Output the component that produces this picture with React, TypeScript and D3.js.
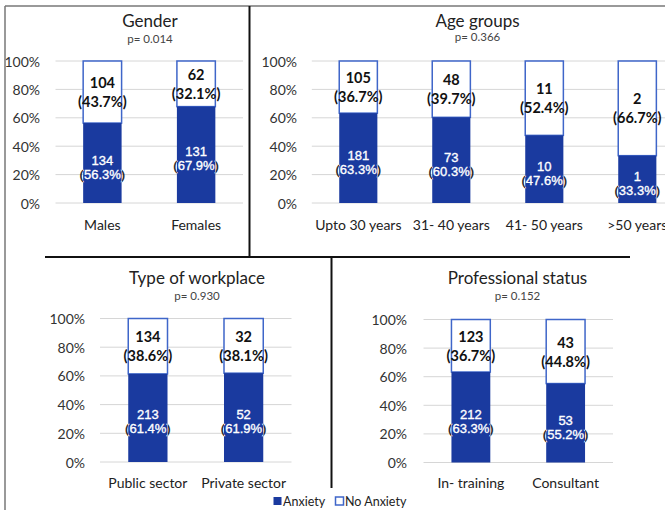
import React from "react";
import * as d3 from "d3";

// ---- Data ----
const genderCategories = ["Males", "Females"];
const genderAnxiety = [134, 131];
const genderAnxietyPct = [56.3, 67.9];
const genderNoAnxiety = [104, 62];
const genderNoAnxietyPct = [43.7, 32.1];

const ageCategories = ["Upto 30 years", "31- 40 years", "41- 50 years", ">50 years"];
const ageAnxiety = [181, 73, 10, 1];
const ageAnxietyPct = [63.3, 60.3, 47.6, 33.3];
const ageNoAnxiety = [105, 48, 11, 2];
const ageNoAnxietyPct = [36.7, 39.7, 52.4, 66.7];

const workCategories = ["Public sector", "Private sector"];
const workAnxiety = [213, 52];
const workAnxietyPct = [61.4, 61.9];
const workNoAnxiety = [134, 32];
const workNoAnxietyPct = [38.6, 38.1];

const profCategories = ["In- training", "Consultant"];
const profAnxiety = [212, 53];
const profAnxietyPct = [63.3, 55.2];
const profNoAnxiety = [123, 43];
const profNoAnxietyPct = [36.7, 44.8];

const yTicks = [0, 0.2, 0.4, 0.6, 0.8, 1];
const legendLabels = ["Anxiety", "No Anxiety"];

// ---- Style ----
const BLUE = "#1a3a9f";
const BORDER = "#3f66c9";
const GRID = "#d6d6d6";
const FONT = "Lato, 'Open Sans', sans-serif";
const W = 665;
const H = 510;

type PanelDef = {
  id: string;
  title: string;
  p: string;
  cats: string[];
  anx: number[];
  anxPct: number[];
  no: number[];
  noPct: number[];
  x0: number;
  x1: number;
  yTop: number;
  yBot: number;
  tickX: number;
  titleX: number;
  titleY: number;
  pY: number;
  catY: number;
};

const panels: PanelDef[] = [
  {
    id: "g", title: "Gender", p: "p= 0.014", cats: genderCategories,
    anx: genderAnxiety, anxPct: genderAnxietyPct, no: genderNoAnxiety, noPct: genderNoAnxietyPct,
    x0: 55.5, x1: 243, yTop: 61, yBot: 203, tickX: 40, titleX: 150, titleY: 20, pY: 38, catY: 224.5,
  },
  {
    id: "a", title: "Age groups", p: "p= 0.366", cats: ageCategories,
    anx: ageAnxiety, anxPct: ageAnxietyPct, no: ageNoAnxiety, noPct: ageNoAnxietyPct,
    x0: 311.8, x1: 683.8, yTop: 61, yBot: 203, tickX: 297, titleX: 477.5, titleY: 20, pY: 36.5, catY: 224.5,
  },
  {
    id: "w", title: "Type of workplace", p: "p= 0.930", cats: workCategories,
    anx: workAnxiety, anxPct: workAnxietyPct, no: workNoAnxiety, noPct: workNoAnxietyPct,
    x0: 100, x1: 291.5, yTop: 318.5, yBot: 462, tickX: 85, titleX: 197, titleY: 277, pY: 295, catY: 482,
  },
  {
    id: "p", title: "Professional status", p: "p= 0.152", cats: profCategories,
    anx: profAnxiety, anxPct: profAnxietyPct, no: profNoAnxiety, noPct: profNoAnxietyPct,
    x0: 423.5, x1: 613, yTop: 319.5, yBot: 462.5, tickX: 407, titleX: 517.5, titleY: 277.5, pY: 295.5, catY: 482.5,
  },
];

const pctFmt = (v: number) => `(${v.toFixed(1)}%)`;
const tickFmt = d3.format(".0%");

function Panel({ d }: { d: PanelDef }) {
  const x = d3.scaleBand<string>().domain(d.cats).range([d.x0, d.x1]).padding(0);
  const y = d3.scaleLinear().domain([0, 1]).range([d.yBot, d.yTop]);
  const bw = x.step() * 0.41;

  return (
    <g>
      <text x={d.titleX} y={d.titleY} textAnchor="middle" dominantBaseline="central"
        fontFamily={FONT} fontSize={17} fill="#222">{d.title}</text>
      <text x={d.titleX} y={d.pY} textAnchor="middle" dominantBaseline="central"
        fontFamily={FONT} fontSize={11.5} fill="#444">{d.p}</text>
      {yTicks.map((t) => (
        <g key={t}>
          <line x1={d.x0} x2={d.x1} y1={y(t)} y2={y(t)} stroke={GRID} strokeWidth={1} />
          <text x={d.tickX} y={y(t)} textAnchor="end" dominantBaseline="central"
            fontFamily={FONT} fontSize={14} fill="#333">{tickFmt(t)}</text>
        </g>
      ))}
      {d.cats.map((c, i) => {
        const cx = (x(c) as number) + x.bandwidth() / 2;
        const left = cx - bw / 2;
        const total = d.anx[i] + d.no[i];
        const anxFrac = d.anx[i] / total;
        const yA = y(anxFrac);
        const segMidA = (y(0) + yA) / 2;
        const segMidN = (yA + y(1)) / 2;
        const clipIn = `ci-${d.id}-${i}`;
        const clipOut = `co-${d.id}-${i}`;
        const whiteLabel = (fill: string) => (
          <g fontFamily="'Liberation Sans', Arial, sans-serif" fontSize={13} fill={fill}
            stroke={fill} strokeWidth={0.35} textAnchor="middle">
            <text x={cx} y={segMidA - 3} dominantBaseline="central">{d.anx[i]}</text>
            <text x={cx} y={segMidA + 11} dominantBaseline="central">{pctFmt(d.anxPct[i])}</text>
          </g>
        );
        return (
          <g key={c}>
            <defs>
              <clipPath id={clipIn}>
                <rect x={left} y={yA} width={bw} height={y(0) - yA} />
              </clipPath>
              <clipPath id={clipOut}>
                <path clipRule="evenodd"
                  d={`M0,0H${W}V${H}H0Z M${left},${yA}h${bw}v${y(0) - yA}h${-bw}Z`} />
              </clipPath>
            </defs>
            <rect x={left} y={y(1)} width={bw} height={yA - y(1)} fill="#fff" stroke={BORDER} strokeWidth={1.5} />
            <rect x={left} y={yA} width={bw} height={y(0) - yA} fill={BLUE} />
            <g fontFamily={FONT} fontSize={14.5} fontWeight={700} fill="#111" textAnchor="middle">
              <text x={cx} y={segMidN - 9.5} dominantBaseline="central">{d.no[i]}</text>
              <text x={cx} y={segMidN + 9.5} dominantBaseline="central">{pctFmt(d.noPct[i])}</text>
            </g>
            <g clipPath={`url(#${clipOut})`}>{whiteLabel("#111")}</g>
            <g clipPath={`url(#${clipIn})`}>{whiteLabel("#fff")}</g>
            <text x={cx} y={d.catY} textAnchor="middle" dominantBaseline="central"
              fontFamily={FONT} fontSize={14} fill="#222">{c}</text>
          </g>
        );
      })}
    </g>
  );
}

export default function App() {
  return (
    <svg width={W} height={H} style={{ position: "absolute", left: 0, top: 0, background: "#fff" }}>
      <rect x={0} y={0} width={W} height={H} fill="#fff" />
      {panels.map((p) => (
        <Panel key={p.id} d={p} />
      ))}
      {/* outer frame */}
      <line x1={5} x2={W} y1={6} y2={6} stroke="#777" strokeWidth={1.5} />
      <line x1={5} x2={5} y1={6} y2={H} stroke="#777" strokeWidth={1.5} />
      {/* dividers */}
      <line x1={249.5} x2={249.5} y1={6} y2={257} stroke="#111" strokeWidth={2} />
      <line x1={45} x2={630} y1={257} y2={257} stroke="#111" strokeWidth={2} />
      <line x1={331.5} x2={331.5} y1={257} y2={488} stroke="#111" strokeWidth={2} />
      {/* legend */}
      <g fontFamily={FONT} fontSize={12.5} fill="#222">
        <rect x={273.5} y={497} width={8} height={8} fill={BLUE} />
        <text x={283} y={501} dominantBaseline="central">{legendLabels[0]}</text>
        <rect x={335.5} y={497} width={8} height={8} fill="#fff" stroke={BORDER} strokeWidth={1.5} />
        <text x={345} y={501} dominantBaseline="central">{legendLabels[1]}</text>
      </g>
    </svg>
  );
}
